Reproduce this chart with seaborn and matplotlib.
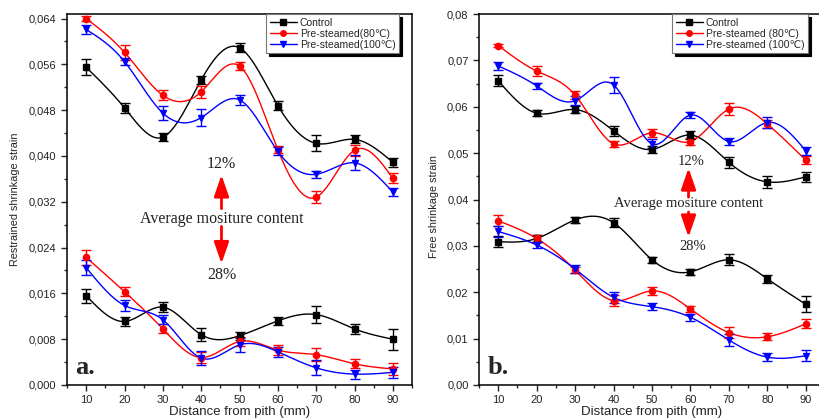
import numpy as np
import matplotlib
matplotlib.use('Agg')
import matplotlib.pyplot as plt
import seaborn as sns
from matplotlib.ticker import MultipleLocator, FuncFormatter
from matplotlib.lines import Line2D

distance = [10, 20, 30, 40, 50, 60, 70, 80, 90]

# a. restrained shrinkage strain, 12% moisture content
a_ctrl_12 = [0.0555, 0.0484, 0.0433, 0.0533, 0.0589, 0.0488, 0.0422, 0.0429, 0.0389]
a_ctrl_12_err = [0.0014, 0.0009, 0.0007, 0.0007, 0.0008, 0.0008, 0.0014, 0.0007, 0.0008]
a_p80_12 = [0.0640, 0.0581, 0.0506, 0.0512, 0.0557, 0.0411, 0.0328, 0.0410, 0.0361]
a_p80_12_err = [0.0005, 0.0013, 0.0009, 0.0010, 0.0007, 0.0006, 0.0010, 0.0010, 0.0009]
a_p100_12 = [0.0621, 0.0565, 0.0475, 0.0467, 0.0498, 0.0408, 0.0368, 0.0388, 0.0337]
a_p100_12_err = [0.0008, 0.0006, 0.0013, 0.0015, 0.0009, 0.0007, 0.0006, 0.0013, 0.0007]
# a. 28% moisture content
a_ctrl_28 = [0.0156, 0.0111, 0.0136, 0.0088, 0.0086, 0.0112, 0.0123, 0.0098, 0.0080]
a_ctrl_28_err = [0.0012, 0.0008, 0.0009, 0.0012, 0.0007, 0.0007, 0.0015, 0.0009, 0.0018]
a_p80_28 = [0.0223, 0.0163, 0.0098, 0.0048, 0.0076, 0.0061, 0.0053, 0.0037, 0.0028]
a_p80_28_err = [0.0013, 0.0008, 0.0008, 0.0010, 0.0008, 0.0008, 0.0011, 0.0008, 0.0010]
a_p100_28 = [0.0205, 0.0139, 0.0114, 0.0047, 0.0070, 0.0058, 0.0030, 0.0019, 0.0022]
a_p100_28_err = [0.0013, 0.0009, 0.0008, 0.0012, 0.0012, 0.0009, 0.0013, 0.0008, 0.0010]

# b. free shrinkage strain, 12%
b_ctrl_12 = [0.0656, 0.0586, 0.0594, 0.0548, 0.0508, 0.0539, 0.0480, 0.0438, 0.0449]
b_ctrl_12_err = [0.0012, 0.0007, 0.0007, 0.0010, 0.0007, 0.0008, 0.0012, 0.0013, 0.0011]
b_p80_12 = [0.0732, 0.0677, 0.0625, 0.0520, 0.0544, 0.0525, 0.0595, 0.0563, 0.0485]
b_p80_12_err = [0.0004, 0.0011, 0.0008, 0.0007, 0.0009, 0.0007, 0.0013, 0.0009, 0.0009]
b_p100_12 = [0.0688, 0.0645, 0.0613, 0.0647, 0.0520, 0.0582, 0.0525, 0.0566, 0.0505]
b_p100_12_err = [0.0008, 0.0007, 0.0010, 0.0017, 0.0010, 0.0006, 0.0007, 0.0011, 0.0008]
# b. 28%
b_ctrl_28 = [0.0309, 0.0316, 0.0356, 0.0350, 0.0270, 0.0244, 0.0270, 0.0229, 0.0174]
b_ctrl_28_err = [0.0012, 0.0008, 0.0006, 0.0010, 0.0007, 0.0007, 0.0012, 0.0009, 0.0017]
b_p80_28 = [0.0354, 0.0316, 0.0248, 0.0182, 0.0203, 0.0164, 0.0113, 0.0104, 0.0132]
b_p80_28_err = [0.0012, 0.0007, 0.0007, 0.0012, 0.0008, 0.0006, 0.0011, 0.0008, 0.0010]
b_p100_28 = [0.0331, 0.0302, 0.0250, 0.0189, 0.0169, 0.0146, 0.0097, 0.0060, 0.0063]
b_p100_28_err = [0.0012, 0.0007, 0.0008, 0.0012, 0.0008, 0.0007, 0.0013, 0.0009, 0.0012]

labels_a = ['Control', 'Pre-steamed(80\u2103)', 'Pre-steamed(100\u2103)']
labels_b = ['Control', 'Pre-steamed (80\u2103)', 'Pre-steamed (100\u2103)']

sns.set_style('ticks')
plt.rcParams['font.family'] = ['Liberation Sans', 'DejaVu Sans']
plt.rcParams['axes.linewidth'] = 1.1

colors = ['black', 'red', 'blue']
markers = ['s', 'o', 'v']
serif = ['Liberation Serif', 'DejaVu Serif']


def spline(x, y, n=200):
    # natural cubic spline, just for drawing a smooth line through the points
    x = np.asarray(x, float)
    y = np.asarray(y, float)
    k = len(x)
    h = np.diff(x)
    A = np.zeros((k, k))
    r = np.zeros(k)
    A[0, 0] = A[-1, -1] = 1
    for i in range(1, k - 1):
        A[i, i - 1] = h[i - 1]
        A[i, i] = 2 * (h[i - 1] + h[i])
        A[i, i + 1] = h[i]
        r[i] = 3 * ((y[i + 1] - y[i]) / h[i] - (y[i] - y[i - 1]) / h[i - 1])
    c = np.linalg.solve(A, r)
    b = (y[1:] - y[:-1]) / h - h * (2 * c[:-1] + c[1:]) / 3
    d = (c[1:] - c[:-1]) / (3 * h)
    xs = np.linspace(x[0], x[-1], n)
    idx = np.clip(np.searchsorted(x, xs) - 1, 0, k - 2)
    dx = xs - x[idx]
    return xs, y[idx] + b[idx] * dx + c[idx] * dx ** 2 + d[idx] * dx ** 3


def draw_series(ax, vals, errs, i):
    xs, ys = spline(distance, vals)
    sns.lineplot(x=xs, y=ys, color=colors[i], lw=1.0, ax=ax, sort=False)
    ax.errorbar(distance, vals, yerr=errs, fmt=markers[i], color=colors[i], ms=4.5,
                capsize=3.5, elinewidth=1.0, capthick=1.0, zorder=3)


def style_axes(ax, ylim, major, fmt, ylabel, ylabel_xy):
    ax.set_xlim(5, 95)
    ax.set_ylim(*ylim)
    ax.xaxis.set_major_locator(MultipleLocator(10))
    ax.xaxis.set_minor_locator(MultipleLocator(5))
    ax.yaxis.set_major_locator(MultipleLocator(major))
    ax.yaxis.set_minor_locator(MultipleLocator(major / 2))
    ax.yaxis.set_major_formatter(FuncFormatter(lambda v, p: fmt.format(v).replace('.', ',')))
    ax.tick_params(which='major', direction='out', length=4, width=1, labelsize=8, colors='#222222')
    ax.tick_params(which='minor', direction='out', length=2.5, width=1)
    for s in ax.spines.values():
        s.set_visible(True)
        s.set_color('black')
    ax.set_xlabel('Distance from pith (mm)', fontsize=9.5, color='#222222')
    ax.set_ylabel(ylabel, fontsize=7.8, color='#222222')
    ax.xaxis.set_label_coords(0.5, -0.057)
    ax.yaxis.set_label_coords(*ylabel_xy)


def add_legend(ax, labels, x_fig):
    handles = [Line2D([0], [0], color=colors[i], marker=markers[i], ms=4, lw=1) for i in range(3)]
    leg = ax.legend(handles, labels, loc='upper left', bbox_to_anchor=(x_fig, 1 - 14 / 420),
                    bbox_transform=fig.transFigure, fontsize=7.5, frameon=True, fancybox=False,
                    shadow={'color': 'black', 'alpha': 1}, borderpad=0.35, labelspacing=0.1,
                    handlelength=2.6, handletextpad=0.3, borderaxespad=0)
    leg.get_frame().set_edgecolor('#777777')
    leg.get_frame().set_linewidth(0.8)


def moisture_note(ax, x, y12, x12, up, ytxt, down, y28, x28, fs, head):
    arrow = dict(arrowstyle=f'-|>,head_width=0.45,head_length={head}', color='red', lw=2,
                 shrinkA=0, shrinkB=0)
    ax.text(x12, y12, '12%', ha='center', va='center', fontsize=fs, family=serif, color='#222222')
    ax.annotate('', xy=(x, up[1]), xytext=(x, up[0]), arrowprops=arrow)
    ax.text(x, ytxt, 'Average mositure content', ha='center', va='center', fontsize=fs,
            family=serif, color='#222222')
    ax.annotate('', xy=(x, down[1]), xytext=(x, down[0]), arrowprops=arrow)
    ax.text(x28, y28, '28%', ha='center', va='center', fontsize=fs, family=serif, color='#222222')


fig = plt.figure(figsize=(8.19, 4.2), dpi=100)
ax_a = fig.add_axes([67 / 819, 35 / 420, 345 / 819, 371 / 420])
ax_b = fig.add_axes([479 / 819, 35 / 420, 346 / 819, 371 / 420])

for i, (v, e) in enumerate([(a_ctrl_12, a_ctrl_12_err), (a_p80_12, a_p80_12_err), (a_p100_12, a_p100_12_err),
                            (a_ctrl_28, a_ctrl_28_err), (a_p80_28, a_p80_28_err), (a_p100_28, a_p100_28_err)]):
    draw_series(ax_a, v, e, i % 3)
for i, (v, e) in enumerate([(b_ctrl_12, b_ctrl_12_err), (b_p80_12, b_p80_12_err), (b_p100_12, b_p100_12_err),
                            (b_ctrl_28, b_ctrl_28_err), (b_p80_28, b_p80_28_err), (b_p100_28, b_p100_28_err)]):
    draw_series(ax_b, v, e, i % 3)

style_axes(ax_a, (0, 0.0648), 0.008, '{:.3f}', 'Restrained shrinkage strain', (-0.136, 0.5))
style_axes(ax_b, (0, 0.08), 0.01, '{:.2f}', 'Free shrinkage strain', (-0.116, 0.48))

add_legend(ax_a, labels_a, 266 / 819)
add_legend(ax_b, labels_b, 672 / 819)

moisture_note(ax_a, 45.3, 0.0386, 45.3, (0.0308, 0.0367), 0.0290, (0.0277, 0.0212), 0.0193, 45.3, 11.5, 1.3)
moisture_note(ax_b, 59.5, 0.0483, 60.3, (0.0405, 0.0468), 0.0392, (0.0373, 0.0319), 0.0298, 60.5, 10.5, 1.3)

ax_a.text(0.025, 0.03, 'a.', transform=ax_a.transAxes, fontsize=19, fontweight='bold', family=serif)
ax_b.text(0.025, 0.03, 'b.', transform=ax_b.transAxes, fontsize=19, fontweight='bold', family=serif)

fig.savefig('out.png', dpi=100)
